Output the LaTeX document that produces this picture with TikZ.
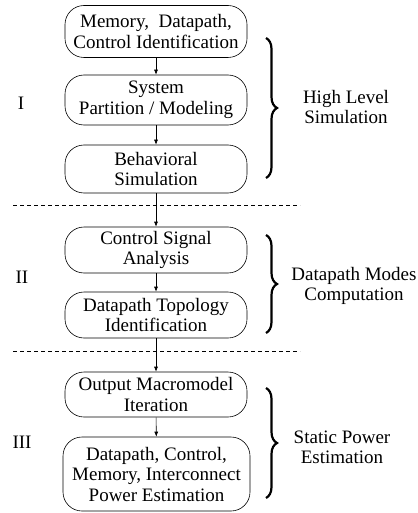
\documentclass[tikz,border=0pt]{standalone}
\usepackage{fontspec}
\setmainfont{Liberation Serif}
\usetikzlibrary{arrows.meta}
\usetikzlibrary{decorations.pathreplacing}
\usetikzlibrary{positioning}
\tikzset{stage/.style = {draw, rounded corners=19pt, align=center, minimum width=182pt, inner sep=2pt, line width=0.6pt}}
\tikzset{flow/.style = {-{Latex[length=5pt,width=4pt]}, line width=0.6pt}}
\tikzset{split/.style = {dash pattern=on 4pt off 3pt, line width=0.6pt}}
\tikzset{group/.style = {decorate, decoration={brace,amplitude=11pt}, line width=2.2pt}}

\begin{document}
\begin{tikzpicture}[x=1pt,y=-1pt,font=\fontsize{19}{20.5}\selectfont]
        \useasboundingbox (0,0) rectangle (417,513);
        % phase I
        \node[stage, minimum height=52pt] (mdc) at (156,31.5) {Memory,~ Datapath,\\Control Identification};
        \node[stage, minimum height=50pt] (spm) at (156,100) {System\\Partition / Modeling};
        \node[stage, minimum height=48pt] (bsim) at (156,169) {Behavioral\\Simulation};
        % phase II
        \node[stage, minimum height=46pt] (csa) at (156,250) {Control Signal\\Analysis};
        \node[stage, minimum height=46pt] (dti) at (156,315) {Datapath Topology\\Identification};
        % phase III
        \node[stage, minimum height=45pt] (omi) at (156,394.5) {Output Macromodel\\Iteration};
        \node[stage, minimum height=74pt, minimum width=187pt] (pest) at (156.5,474) {Datapath, Control,\\Memory, Interconnect\\Power Estimation};
        \draw[flow] (mdc)--(spm);
        \draw[flow] (spm)--(bsim);
        \draw[flow] (bsim)--(csa);
        \draw[flow] (csa)--(dti);
        \draw[flow] (dti)--(omi);
        \draw[flow] (omi)--(pest);
        % separators
        \coordinate (d1l) at (13,205);
        \coordinate (d1r) at (300,205);
        \coordinate (d2l) at (13,351);
        \coordinate (d2r) at (300,351);
        \draw[split] (d1l)--(d1r);
        \draw[split] (d2l)--(d2r);
        % phase numbers
        \node[] (p1) at (21,103) {I};
        \node[] (p2) at (22,277) {II};
        \node[] (p3) at (22,442) {III};
        % braces
        \coordinate (b1t) at (266,38);
        \coordinate (b1b) at (266,178);
        \coordinate (b2t) at (266,235);
        \coordinate (b2b) at (266,333);
        \coordinate (b3t) at (266,388);
        \coordinate (b3b) at (266,498);
        \draw[group] (b1t)--(b1b);
        \draw[group] (b2t)--(b2b);
        \draw[group] (b3t)--(b3b);
        \node[align=center] (hls) at (346,107) {High Level\\Simulation};
        \node[align=center] (dmc) at (354,286) {Datapath Modes\\Computation};
        \node[align=center] (spe) at (342,447.5) {Static Power\\Estimation};
    \end{tikzpicture}
\end{document}
